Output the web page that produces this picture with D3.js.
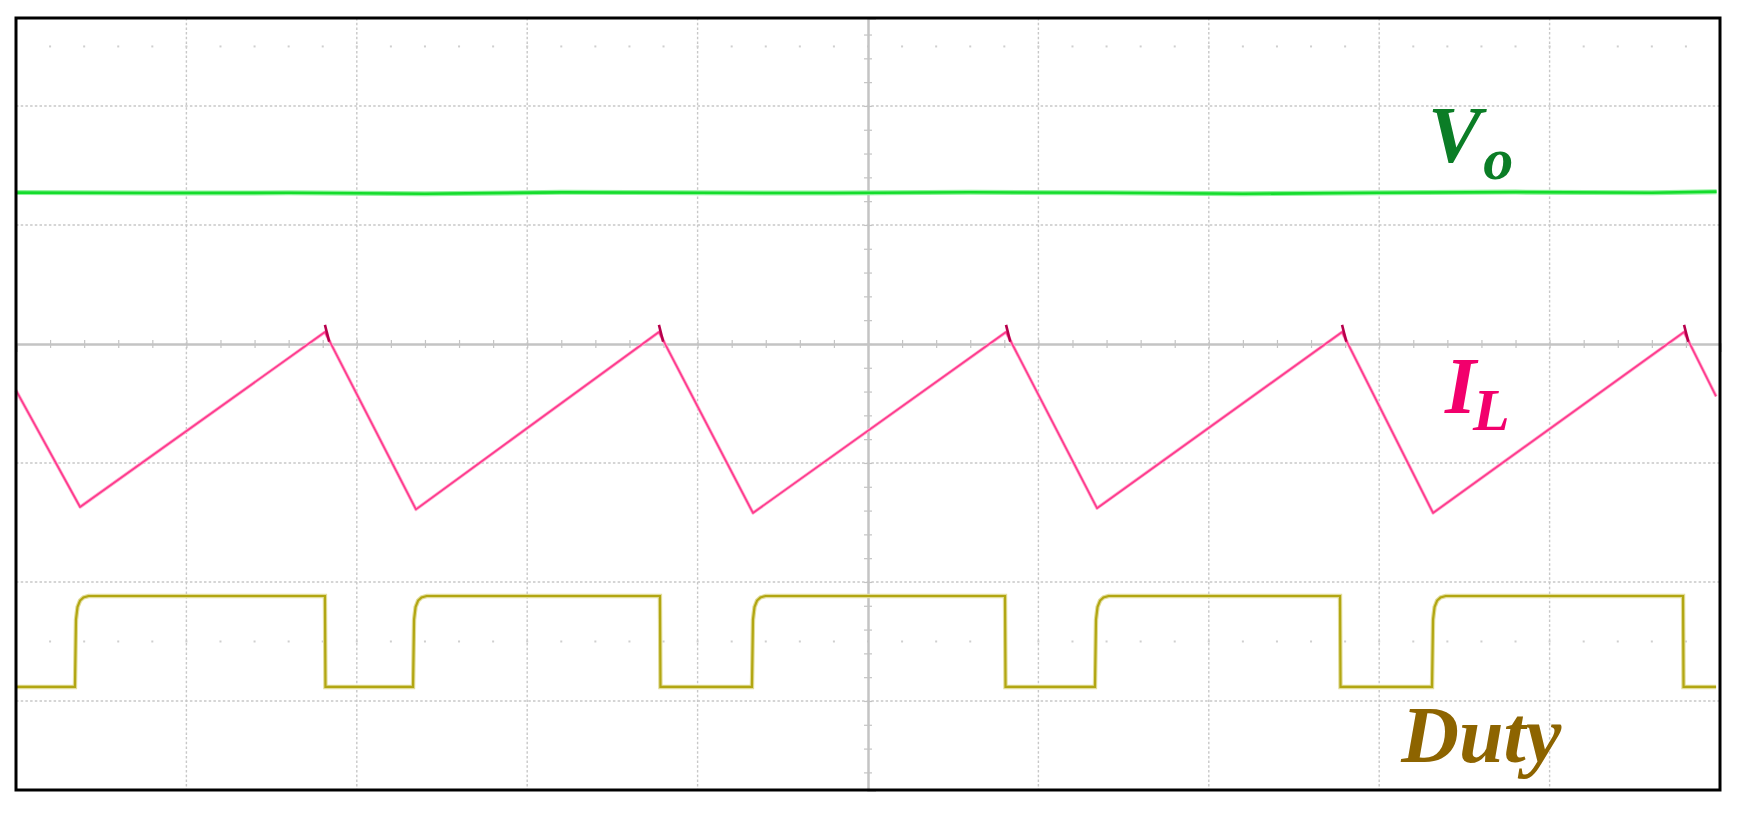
<!DOCTYPE html>
<html>
<head>
<meta charset="utf-8">
<script src="https://cdn.jsdelivr.net/npm/d3@7"></script>
<style>
  body { margin: 0; background: #fff; }
  .grid line { stroke: #c8c8c8; stroke-width: 1.4; stroke-dasharray: 2.5,2.2; }
  .axis path, .axis line { stroke: #c4c4c4; }
  .label { font-family: "Liberation Serif", "DejaVu Serif", serif; font-weight: bold; font-style: italic; }
</style>
</head>
<body>
<div id="chart"></div>
<script>
// time in horizontal divisions (0-10), amplitude in vertical divisions (0 = centre line)
const gridTimes = [0, 1, 2, 3, 4, 6, 7, 8, 9, 10];
const gridLevels = [-3, -2, -1, 1, 2];
const dotLevels = [-2.5, 2.5];

// output voltage
const voTime = [0, 0.8, 1.6, 2.4, 3.2, 4.0, 4.8, 5.6, 6.4, 7.2, 8.0, 8.8, 9.6, 9.98];
const voValue = [1.272, 1.268, 1.27, 1.262, 1.274, 1.27, 1.268, 1.275, 1.27, 1.262, 1.27, 1.276, 1.27, 1.28];

// inductor current (corners of the triangle wave)
const ilTime = [0, 0.376, 1.813, 2.347, 3.773, 4.325, 5.810, 6.344, 7.782, 8.316, 9.789, 9.977];
const ilValue = [-0.39, -1.37, 0.10, -1.39, 0.10, -1.42, 0.10, -1.38, 0.10, -1.42, 0.10, -0.44];
const ilPeaks = [1.813, 3.773, 5.810, 7.782, 9.789];

// gate duty signal
const dutyRise = [0.346, 2.330, 4.319, 6.332, 8.310];
const dutyFall = [1.813, 3.779, 5.804, 7.770, 9.783];
const dutyHigh = -2.118;
const dutyLow = -2.882;
const dutyEnd = 9.977;
// rising edge shape: [time offset, fraction of swing]
const riseShape = [[0, 0], [0.006, 0.74], [0.015, 0.88], [0.03, 0.95], [0.05, 0.985], [0.08, 1]];

// Set up dimensions
const width = 1739, height = 818;
const frame = { left: 16, right: 1720, top: 18, bottom: 790 };

const svg = d3.select('#chart')
    .append('svg')
    .attr('width', width)
    .attr('height', height);

svg.append('rect')
    .attr('width', width)
    .attr('height', height)
    .attr('fill', '#fff');

// Scales
const x = d3.scaleLinear()
    .domain([0, 10])
    .range([frame.left, frame.right]);

const y = d3.scaleLinear()
    .domain([-3.748, 2.739])
    .range([frame.bottom, frame.top]);

// Dotted grid
const grid = svg.append('g').attr('class', 'grid');

grid.selectAll('.vline')
    .data(gridTimes)
    .enter()
    .append('line')
    .attr('x1', d => x(d))
    .attr('x2', d => x(d))
    .attr('y1', y.range()[1])
    .attr('y2', y.range()[0]);

grid.selectAll('.hline')
    .data(gridLevels)
    .enter()
    .append('line')
    .attr('x1', x.range()[0])
    .attr('x2', x.range()[1])
    .attr('y1', d => y(d))
    .attr('y2', d => y(d));

// minor dot rows
const minorTimes = d3.range(0, 10.001, 0.2);
dotLevels.forEach(lv => {
    svg.append('g')
        .selectAll('rect')
        .data(minorTimes)
        .enter()
        .append('rect')
        .attr('x', d => x(d) - 1)
        .attr('y', y(lv) - 1)
        .attr('width', 2)
        .attr('height', 2)
        .attr('fill', '#cfcfcf');
});

// Centre axes with minor ticks
const xAxis = d3.axisBottom(x)
    .tickValues(minorTimes)
    .tickSize(8)
    .tickFormat('');

svg.append('g')
    .attr('class', 'axis')
    .attr('transform', `translate(0, ${y(0) - 4})`)
    .call(xAxis)
    .call(g => g.select('.domain').attr('transform', 'translate(0,4)').attr('stroke-width', 2.5))
    .call(g => g.selectAll('.tick line').attr('stroke-width', 1.2));

const yAxis = d3.axisRight(y)
    .tickValues(d3.range(-3.6, 2.7, 0.2))
    .tickSize(8)
    .tickFormat('');

svg.append('g')
    .attr('class', 'axis')
    .attr('transform', `translate(${x(5) - 4}, 0)`)
    .call(yAxis)
    .call(g => g.select('.domain').attr('transform', 'translate(4,0)').attr('stroke-width', 2.5))
    .call(g => g.selectAll('.tick line').attr('stroke-width', 1.2));

// Traces
const line = d3.line()
    .x(d => x(d[0]))
    .y(d => y(d[1]));

const voData = voTime.map((t, i) => [t, voValue[i]]);
svg.append('path')
    .datum(voData)
    .attr('d', line)
    .attr('fill', 'none')
    .attr('stroke', '#8ef29a')
    .attr('stroke-width', 5);
svg.append('path')
    .datum(voData)
    .attr('d', line)
    .attr('fill', 'none')
    .attr('stroke', '#14dc2c')
    .attr('stroke-width', 2.6);

const ilData = ilTime.map((t, i) => [t, ilValue[i]]);
svg.append('path')
    .datum(ilData)
    .attr('d', line)
    .attr('fill', 'none')
    .attr('stroke', '#ffb3d2')
    .attr('stroke-width', 3.4)
    .attr('stroke-linejoin', 'round');
svg.append('path')
    .datum(ilData)
    .attr('d', line)
    .attr('fill', 'none')
    .attr('stroke', '#ff3b8e')
    .attr('stroke-width', 1.8)
    .attr('stroke-linejoin', 'round');

// small switching spike at every current peak
svg.append('g')
    .selectAll('line')
    .data(ilPeaks)
    .enter()
    .append('line')
    .attr('x1', d => x(d))
    .attr('y1', y(0.16))
    .attr('x2', d => x(d + 0.025))
    .attr('y2', y(0.02))
    .attr('stroke', '#b8004c')
    .attr('stroke-width', 2.6);

const dutyData = [[0, dutyLow]];
dutyRise.forEach((t, i) => {
    riseShape.forEach(s => dutyData.push([t + s[0], dutyLow + s[1] * (dutyHigh - dutyLow)]));
    dutyData.push([dutyFall[i], dutyHigh]);
    dutyData.push([dutyFall[i] + 0.003, dutyLow]);
});
dutyData.push([dutyEnd, dutyLow]);

svg.append('path')
    .datum(dutyData)
    .attr('d', line)
    .attr('fill', 'none')
    .attr('stroke', '#e2dd9a')
    .attr('stroke-width', 4.4);
svg.append('path')
    .datum(dutyData)
    .attr('d', line)
    .attr('fill', 'none')
    .attr('stroke', '#b2a612')
    .attr('stroke-width', 2.2);

// Frame
svg.append('rect')
    .attr('x', frame.left)
    .attr('y', frame.top)
    .attr('width', frame.right - frame.left)
    .attr('height', frame.bottom - frame.top)
    .attr('fill', 'none')
    .attr('stroke', '#000')
    .attr('stroke-width', 3);

// Trace labels
const labels = [
    { main: 'V', sub: 'o', t: 8.286, v: 1.529, color: '#0b7d26', dx: 2 },
    { main: 'I', sub: 'L', t: 8.386, v: -0.58, color: '#f2006c', dx: -3 },
    { main: 'Duty', sub: '', t: 8.13, v: -3.513, color: '#8d6400', dx: 0 }
];

labels.forEach(l => {
    const txt = svg.append('text')
        .attr('class', 'label')
        .attr('x', x(l.t))
        .attr('y', y(l.v))
        .attr('fill', l.color)
        .style('font-size', '80px')
        .text(l.main);
    if (l.sub) {
        txt.append('tspan')
            .attr('dy', 17)
            .attr('dx', l.dx)
            .style('font-size', '60px')
            .text(l.sub);
    }
});
</script>
</body>
</html>
